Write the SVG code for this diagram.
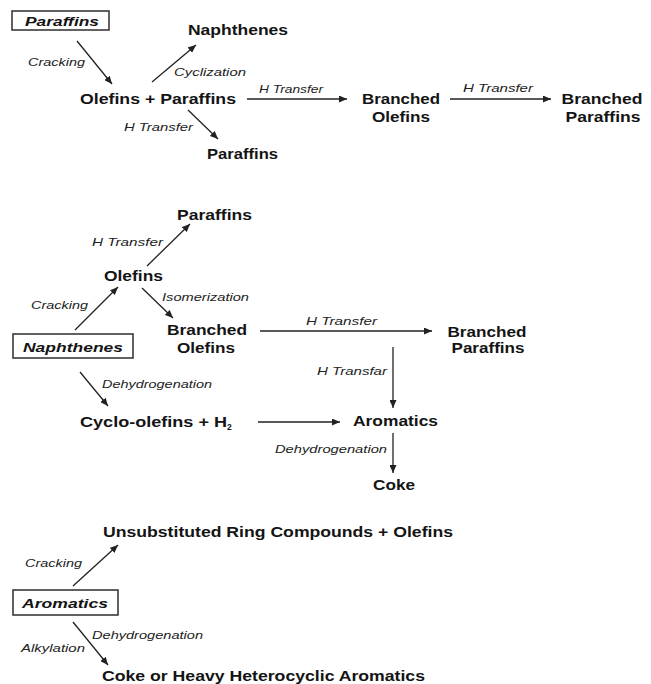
<svg xmlns="http://www.w3.org/2000/svg" width="651" height="684" viewBox="0 0 651 684">
  <style>
    .node { font-family: "Liberation Sans", Arial, sans-serif; font-weight: bold; font-size: 15px; fill: #141414; }
    .feed { font-family: "Liberation Sans", Arial, sans-serif; font-weight: bold; font-style: italic; font-size: 13.5px; fill: #141414; }
    .lbl { font-family: "Liberation Sans", Arial, sans-serif; font-style: italic; font-size: 11.5px; fill: #222; }
    .box { fill: #fff; stroke: #3a3a3a; stroke-width: 1.6; }
    .edge { stroke: #222; stroke-width: 1.3; fill: none; marker-end: url(#head); }
  </style>
  <defs>
    <marker id="head" markerUnits="userSpaceOnUse" markerWidth="9" markerHeight="7" refX="8" refY="3.5" orient="auto">
      <path d="M0,0 L8,3.5 L0,7 z" fill="#222"/>
    </marker>
  </defs>
  <rect width="651" height="684" fill="#fff"/>

  <!-- Connectors -->
  <g id="connectors">
    <!-- paraffins chain -->
    <line class="edge" x1="77" y1="41" x2="112" y2="84"/>
    <line class="edge" x1="152" y1="82" x2="196" y2="45"/>
    <line class="edge" x1="188" y1="110" x2="218" y2="139"/>
    <line class="edge" x1="247" y1="99" x2="347" y2="99"/>
    <line class="edge" x1="450" y1="99" x2="551" y2="99"/>
    <!-- naphthenes chain -->
    <line class="edge" x1="75" y1="330" x2="118" y2="287"/>
    <line class="edge" x1="147" y1="266" x2="190" y2="224"/>
    <line class="edge" x1="142" y1="288" x2="173" y2="318"/>
    <line class="edge" x1="260" y1="331" x2="432" y2="331"/>
    <line class="edge" x1="393" y1="347" x2="393" y2="408"/>
    <line class="edge" x1="80" y1="372" x2="108" y2="406"/>
    <line class="edge" x1="258" y1="422" x2="340" y2="422"/>
    <line class="edge" x1="393" y1="433" x2="393" y2="473"/>
    <!-- aromatics chain -->
    <line class="edge" x1="73" y1="586" x2="118" y2="545"/>
    <line class="edge" x1="73" y1="622" x2="108" y2="665"/>

    <!-- reaction labels -->
    <text class="lbl" x="28" y="66" textLength="57" lengthAdjust="spacingAndGlyphs">Cracking</text>
    <text class="lbl" x="174" y="76" textLength="72" lengthAdjust="spacingAndGlyphs">Cyclization</text>
    <text class="lbl" x="124" y="131" textLength="69" lengthAdjust="spacingAndGlyphs">H Transfer</text>
    <text class="lbl" x="259" y="93" textLength="64" lengthAdjust="spacingAndGlyphs">H Transfer</text>
    <text class="lbl" x="463" y="92" textLength="70" lengthAdjust="spacingAndGlyphs">H Transfer</text>

    <text class="lbl" x="92" y="246" textLength="71" lengthAdjust="spacingAndGlyphs">H Transfer</text>
    <text class="lbl" x="31" y="309" textLength="57" lengthAdjust="spacingAndGlyphs">Cracking</text>
    <text class="lbl" x="162" y="301" textLength="87" lengthAdjust="spacingAndGlyphs">Isomerization</text>
    <text class="lbl" x="306" y="325" textLength="71" lengthAdjust="spacingAndGlyphs">H Transfer</text>
    <text class="lbl" x="317" y="375" textLength="70" lengthAdjust="spacingAndGlyphs">H Transfar</text>
    <text class="lbl" x="102" y="388" textLength="110" lengthAdjust="spacingAndGlyphs">Dehydrogenation</text>
    <text class="lbl" x="275" y="453" textLength="112" lengthAdjust="spacingAndGlyphs">Dehydrogenation</text>

    <text class="lbl" x="25" y="567" textLength="57" lengthAdjust="spacingAndGlyphs">Cracking</text>
    <text class="lbl" x="92" y="639" textLength="111" lengthAdjust="spacingAndGlyphs">Dehydrogenation</text>
    <text class="lbl" x="21" y="652" textLength="64" lengthAdjust="spacingAndGlyphs">Alkylation</text>
  </g>

  <!-- Paraffins feed -->
  <g id="feed-paraffins">
    <rect class="box" x="12" y="11" width="97" height="19"/>
    <text class="feed" x="25" y="26" textLength="74" lengthAdjust="spacingAndGlyphs">Paraffins</text>
  </g>
  <g id="naphthenes-1">
    <text class="node" x="188" y="35" textLength="100" lengthAdjust="spacingAndGlyphs">Naphthenes</text>
  </g>
  <g id="olefins-paraffins">
    <text class="node" x="80" y="104" textLength="156" lengthAdjust="spacingAndGlyphs">Olefins + Paraffins</text>
  </g>
  <g id="paraffins-1">
    <text class="node" x="207" y="159" textLength="71" lengthAdjust="spacingAndGlyphs">Paraffins</text>
  </g>
  <g id="branched-olefins-1">
    <text class="node" x="401" y="104" text-anchor="middle" textLength="78" lengthAdjust="spacingAndGlyphs">Branched</text>
    <text class="node" x="401" y="122" text-anchor="middle" textLength="58" lengthAdjust="spacingAndGlyphs">Olefins</text>
  </g>
  <g id="branched-paraffins-1">
    <text class="node" x="602" y="104" text-anchor="middle" textLength="81" lengthAdjust="spacingAndGlyphs">Branched</text>
    <text class="node" x="603" y="122" text-anchor="middle" textLength="75" lengthAdjust="spacingAndGlyphs">Paraffins</text>
  </g>

  <!-- Naphthenes feed -->
  <g id="feed-naphthenes">
    <rect class="box" x="13" y="334" width="120" height="24"/>
    <text class="feed" x="23" y="352" textLength="100" lengthAdjust="spacingAndGlyphs">Naphthenes</text>
  </g>
  <g id="paraffins-2">
    <text class="node" x="177" y="220" textLength="75" lengthAdjust="spacingAndGlyphs">Paraffins</text>
  </g>
  <g id="olefins-2">
    <text class="node" x="104" y="281" textLength="59" lengthAdjust="spacingAndGlyphs">Olefins</text>
  </g>
  <g id="branched-olefins-2">
    <text class="node" x="207" y="335" text-anchor="middle" textLength="80" lengthAdjust="spacingAndGlyphs">Branched</text>
    <text class="node" x="206" y="353" text-anchor="middle" textLength="58" lengthAdjust="spacingAndGlyphs">Olefins</text>
  </g>
  <g id="branched-paraffins-2">
    <text class="node" x="487" y="337" text-anchor="middle" textLength="79" lengthAdjust="spacingAndGlyphs">Branched</text>
    <text class="node" x="488" y="353" text-anchor="middle" textLength="73" lengthAdjust="spacingAndGlyphs">Paraffins</text>
  </g>
  <g id="cyclo-olefins">
    <text class="node" x="80" y="427"><tspan textLength="147" lengthAdjust="spacingAndGlyphs">Cyclo-olefins + H</tspan><tspan font-size="8.5" dy="3">2</tspan></text>
  </g>
  <g id="aromatics-2">
    <text class="node" x="353" y="426" textLength="85" lengthAdjust="spacingAndGlyphs">Aromatics</text>
  </g>
  <g id="coke-2">
    <text class="node" x="373" y="490" textLength="42" lengthAdjust="spacingAndGlyphs">Coke</text>
  </g>

  <!-- Aromatics feed -->
  <g id="feed-aromatics">
    <rect class="box" x="13" y="590" width="105" height="25"/>
    <text class="feed" x="22" y="608" textLength="86" lengthAdjust="spacingAndGlyphs">Aromatics</text>
  </g>
  <g id="ring-compounds">
    <text class="node" x="103" y="537" textLength="350" lengthAdjust="spacingAndGlyphs">Unsubstituted Ring Compounds + Olefins</text>
  </g>
  <g id="coke-heavy">
    <text class="node" x="102" y="681" textLength="323" lengthAdjust="spacingAndGlyphs">Coke or Heavy Heterocyclic Aromatics</text>
  </g>
</svg>
